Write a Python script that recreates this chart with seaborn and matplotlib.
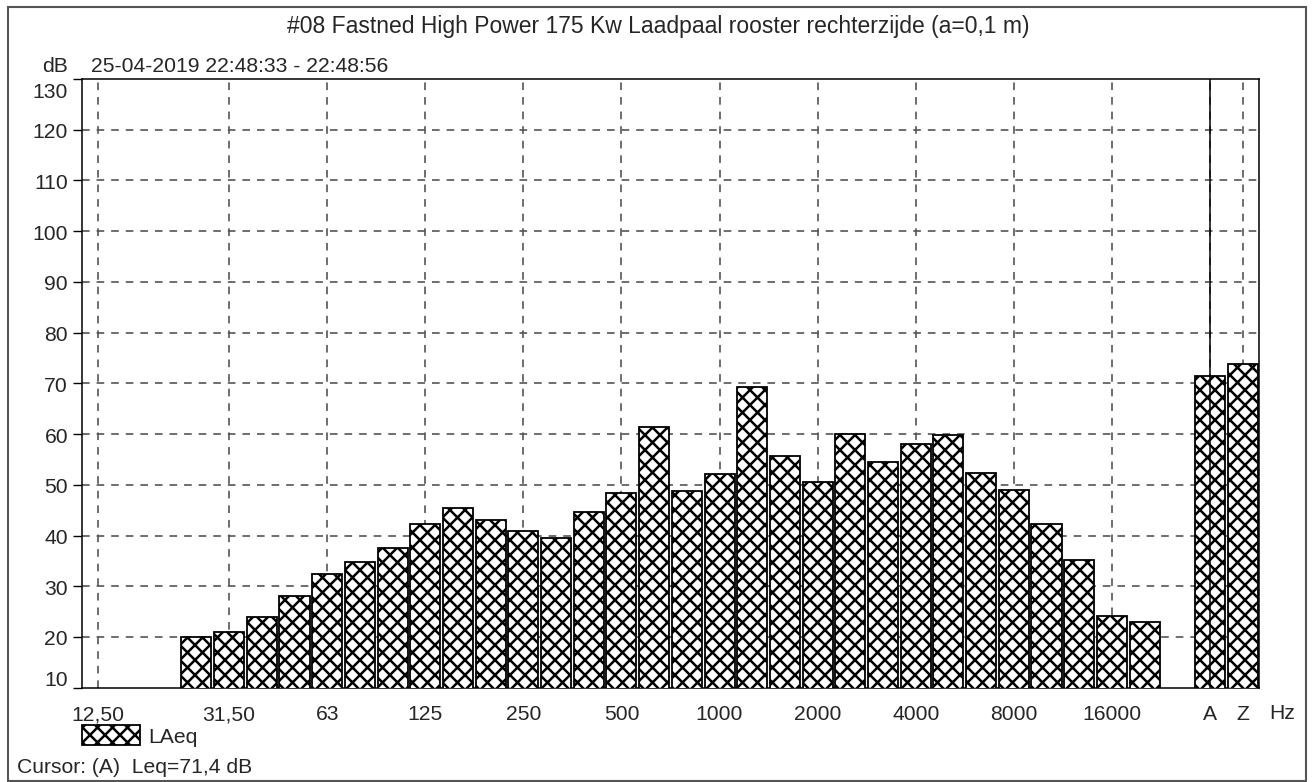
import numpy as np
import pandas as pd
import matplotlib
matplotlib.use("Agg")
import matplotlib.pyplot as plt
from matplotlib.patches import Patch, Rectangle
from matplotlib.transforms import ScaledTranslation
import seaborn as sns

# Third-octave band slots (12.5 Hz .. 20 kHz), a spacer, then the A and Z totals
bands = ["12,5", "16", "20", "25", "31,5", "40", "50", "63", "80", "100", "125", "160",
         "200", "250", "315", "400", "500", "630", "800", "1000", "1250", "1600",
         "2000", "2500", "3150", "4000", "5000", "6300", "8000", "10000", "12500",
         "16000", "20000", " ", "A", "Z"]

# LAeq per band in dB (no level for 12.5-20 Hz and the spacer slot)
levels = [np.nan, np.nan, np.nan,
          19.9, 20.9, 24.0, 28.1, 32.5, 34.8, 37.6, 42.3, 45.5, 43.1, 40.8, 39.6,
          44.7, 48.4, 61.4, 48.8, 52.1, 69.3, 55.6, 50.6, 60.0, 54.4, 58.0, 59.9,
          52.4, 49.0, 42.3, 35.2, 24.1, 22.9,
          np.nan, 71.4, 73.8]

# Labelled bands on the frequency axis
tick_bands = ["12,5", "31,5", "63", "125", "250", "500", "1000", "2000", "4000",
              "8000", "16000", "A", "Z"]
tick_labels = ["12,50", "31,50", "63", "125", "250", "500", "1000", "2000", "4000",
               "8000", "16000", "A", "Z"]
y_ticks = list(range(10, 131, 10))

title = "#08 Fastned High Power 175 Kw Laadpaal rooster rechterzijde (a=0,1 m)"
period = "25-04-2019 22:48:33 - 22:48:56"
series_name = "LAeq"
cursor_band = "A"
cursor_text = "Cursor: (A)  Leq=71,4 dB"

# The cross-hatch tile size follows the dpi; sizes below are given in
# 100-dpi points and scaled by K so the layout stays the same in pixels.
W, H, DPI = 1313, 783, 90
K = 100 / DPI
HATCH = "xx"

sns.set_style("ticks")
plt.rcParams["font.family"] = ["Liberation Sans", "DejaVu Sans"]
plt.rcParams["hatch.linewidth"] = 1.8 * K
plt.rcParams["hatch.color"] = "black"
plt.rcParams["lines.scale_dashes"] = False

FS = 15.2 * K
fig = plt.figure(figsize=(W / DPI, H / DPI), dpi=DPI)
fig.patch.set_facecolor("white")

def fx(px):
    return px / W

def fy(py):
    return 1 - py / H

ax_left, ax_right, ax_top, ax_bottom = 82, 1259, 80, 688.7
ax = fig.add_axes([fx(ax_left), fy(ax_bottom), fx(ax_right - ax_left), (ax_bottom - ax_top) / H])
ax.set_facecolor("white")

df = pd.DataFrame({"band": bands, "level": levels})
sns.barplot(data=df, x="band", y="level", order=bands, color="white",
            edgecolor="black", linewidth=1.3 * K, width=0.92, saturation=1,
            errorbar=None, ax=ax, zorder=3)
for p in ax.patches:
    p.set_facecolor("white")
    p.set_hatch(HATCH)

ax.set_xlim(-0.5, len(bands) - 0.5)
ax.set_ylim(10, 130)

# Grid
grid_kw = dict(color="#555555", linewidth=1.2 * K, linestyle=(0, (5.5 * K, 5 * K)), zorder=1)
for v in y_ticks[1:-1]:
    ax.axhline(v, **grid_kw)
for b in tick_bands:
    ax.axvline(bands.index(b), **grid_kw)

# Cursor marker on the A band
ax.axvline(bands.index(cursor_band), color="black", linewidth=1.1 * K, zorder=5)

ax.set_xticks([bands.index(b) for b in tick_bands])
ax.set_xticklabels(tick_labels)
ax.tick_params(axis="x", length=0, pad=12 * K, labelsize=FS)
ax.set_yticks(y_ticks)
ax.set_yticklabels([str(v) for v in y_ticks])
ax.tick_params(axis="y", length=6.5 * K, width=1.0 * K, pad=3.5 * K, labelsize=FS, color="black")

# Keep the end labels of the level axis inside the plot height
yt = ax.yaxis.get_major_ticks()
yt[0].label1.set_va("baseline")
yt[0].label1.set_transform(yt[0].label1.get_transform()
                           + ScaledTranslation(0, 3 / 100, fig.dpi_scale_trans))
yt[-1].label1.set_va("top")
yt[-1].label1.set_transform(yt[-1].label1.get_transform()
                            + ScaledTranslation(0, -3 / 100, fig.dpi_scale_trans))
ax.set_xlabel("")
ax.set_ylabel("")
for s in ax.spines.values():
    s.set_visible(True)
    s.set_color("black")
    s.set_linewidth(1.1 * K)

# Texts around the plot
fig.text(fx(658), fy(26), title, ha="center", va="center", fontsize=16.5 * K)
fig.text(fx(55), fy(67), "dB", ha="center", va="center", fontsize=FS)
fig.text(fx(91), fy(67), period, ha="left", va="center", fontsize=FS)
fig.text(fx(1282), fy(714), "Hz", ha="center", va="center", fontsize=FS)
fig.text(fx(17), fy(768), cursor_text, ha="left", va="center", fontsize=FS)

# Legend
handle = Patch(facecolor="white", edgecolor="black", hatch=HATCH, linewidth=1.3 * K, label=series_name)
ax.legend(handles=[handle], loc="upper left", bbox_to_anchor=(fx(82), fy(726)),
          bbox_transform=fig.transFigure, frameon=False, fontsize=FS,
          handlelength=2.75, handleheight=1.1, handletextpad=0.4,
          borderpad=0, borderaxespad=0)

# Outer frame
fig.add_artist(Rectangle((fx(8), fy(782)), fx(1306 - 8), (782 - 8) / H,
                         transform=fig.transFigure, fill=False,
                         edgecolor="#555555", linewidth=1.5 * K))

fig.savefig("out.png", dpi=DPI, facecolor="white")
